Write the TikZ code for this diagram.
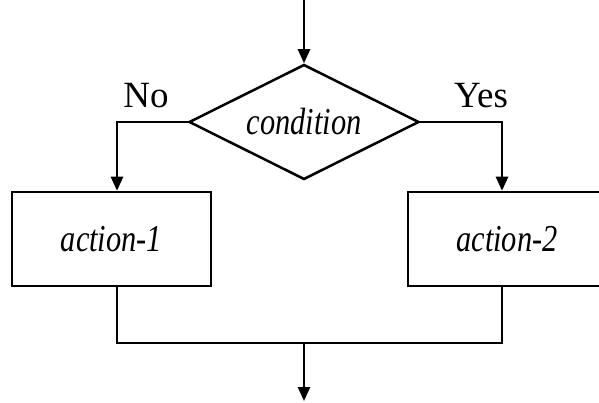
\documentclass[tikz,border=0pt]{standalone}
\usepackage{fontspec}
\setmainfont{Liberation Serif}
\newfontfamily\condfont[FakeStretch=0.8]{Liberation Serif}
\usetikzlibrary{positioning}
\usetikzlibrary{shapes.geometric}
\usetikzlibrary{arrows.meta}

\tikzset{
	flowline/.style={line width=2.5pt},
	flowarrow/.style={flowline, -{Triangle[width=12pt,length=14pt]}},
	actbox/.style={draw, line width=2.5pt, minimum width=199pt, minimum height=94pt, inner sep=0pt, font=\condfont\itshape\fontsize{38}{40}\selectfont},
	condbox/.style={draw, diamond, aspect=2, line width=2.5pt, minimum width=230pt, minimum height=115pt, inner sep=0pt, font=\condfont\itshape\fontsize{38}{40}\selectfont},
	branchlabel/.style={anchor=base, font=\fontsize{37}{40}\selectfont},
}

\begin{document}
\begin{tikzpicture}[x=1pt, y=-1pt]
	\useasboundingbox (0,0) rectangle (599,403);
	% Draw the nodes
	\coordinate (in) at (304,-1);
	\node [condbox] at (304,122) (cond) {condition};
	% Level 2
	\node [actbox] at (111.5,239) (act1) {action-1};
	\node [actbox, minimum width=198pt] at (507,239) (act2) {action-2};
	% Bends of the connectors
	\coordinate (nohook) at (117,122);
	\coordinate (yeshook) at (502,122);
	\coordinate (join) at (304,343);
	\coordinate (out) at (304,401);
	% Labels of the branches
	\node [branchlabel] at (146,108) (nolabel) {No};
	\node [branchlabel] at (481,108) (yeslabel) {Yes};
	
	% Draw the paths between nodes
	\draw [flowarrow] (in) -- (cond.north);
	\draw [flowarrow] (cond.west) -- (nohook) -- (nohook |- act1.north);
	\draw [flowarrow] (cond.east) -- (yeshook) -- (yeshook |- act2.north);
	\draw [flowline] (nohook |- act1.south) -- (nohook |- join) -- (yeshook |- join) -- (yeshook |- act2.south);
	\draw [flowarrow] (join) -- (out);
	
\end{tikzpicture}
\end{document}
